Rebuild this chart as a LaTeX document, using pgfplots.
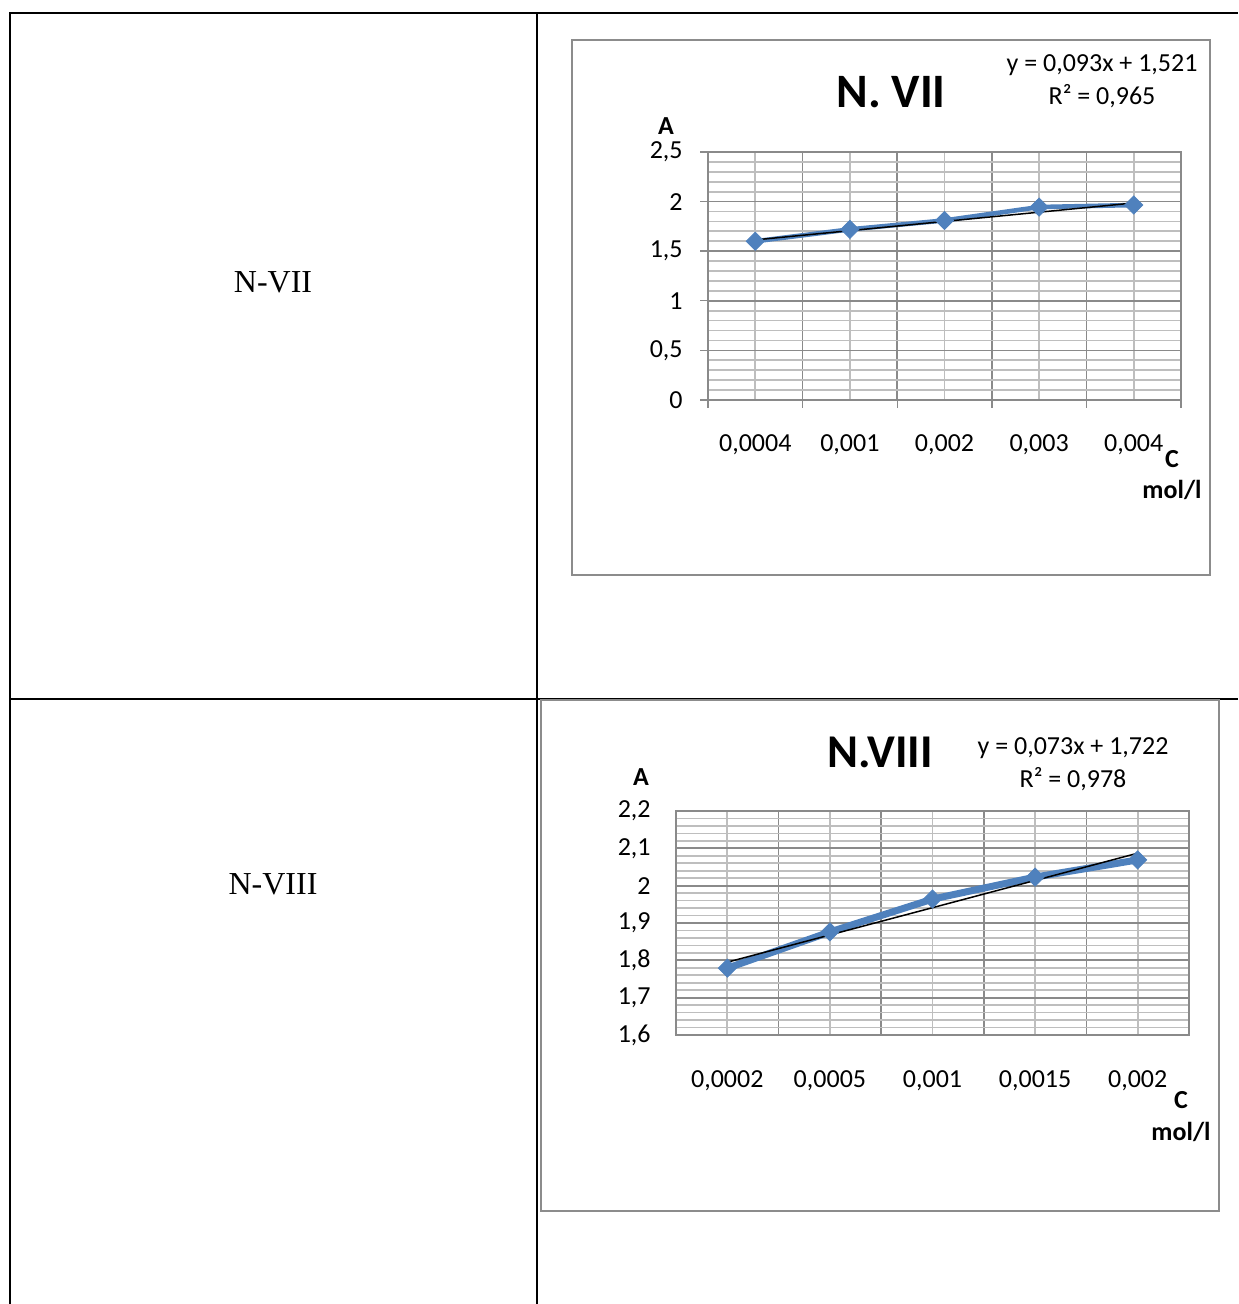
\documentclass[border=0pt]{standalone}
\usepackage{fontspec}
\setmainfont{Liberation Serif}
\newfontfamily\calibri{Carlito}
\usepackage{pgfplots}
\pgfplotsset{compat=1.18}
\definecolor{xblue}{HTML}{4F81BD}
\definecolor{framegray}{HTML}{8C8C8C}
\definecolor{majgray}{HTML}{8A8A8A}
\definecolor{mingray}{HTML}{BEBEBE}

\pgfplotsset{
  excelchart/.style={
    scale only axis,
    anchor=south west,
    xmin=-0.5, xmax=4.5,
    xtick={-0.5,0.5,1.5,2.5,3.5,4.5},
    xticklabels={},
    minor xtick={0,1,2,3,4},
    extra x ticks={0,1,2,3,4},
    grid=both,
    major grid style={majgray, line width=0.85pt},
    minor grid style={mingray, line width=0.85pt},
    tick pos=left,
    tick align=outside,
    minor tick length=0pt,
    tick style={majgray, line width=0.7pt},
    axis line style={majgray, line width=0.8pt},
    /pgf/number format/use comma,
    /pgf/number format/assume math mode=true,
    tick label style={font=\calibri\fontsize{13}{15}\selectfont, text=black},
  },
  series/.style={xblue, line width=#1, mark=square*, mark size=3.2pt,
    mark options={solid, rotate=45, line width=0.4pt, fill=xblue, draw=xblue}},
  trend/.style={black, line width=0.75pt, no marks},
}

\begin{document}
\begin{tikzpicture}
\useasboundingbox (0,0) rectangle (619pt,652pt);
% table
\draw[line width=0.8pt] (5pt,645.5pt) -- (619pt,645.5pt);
\draw[line width=0.8pt] (5pt,645.9pt) -- (5pt,0pt);
\draw[line width=0.8pt] (268.5pt,645.9pt) -- (268.5pt,0pt);
\draw[line width=0.8pt] (5pt,302.5pt) -- (619pt,302.5pt);
\node[font=\fontsize{16}{19}\selectfont] at (136.5pt,511pt) {N-VII};
\node[font=\fontsize{16}{19}\selectfont] at (136.5pt,210pt) {N-VIII};
% chart frames
\draw[framegray, line width=1.2pt] (286pt,632pt) rectangle (605pt,364.5pt);
\draw[framegray, line width=1.2pt] (270.5pt,302pt) rectangle (609.5pt,46.5pt);

% ---------- chart N. VII ----------
\begin{axis}[excelchart,
  at={(354pt,452pt)}, width=236.5pt, height=124pt,
  ymin=0, ymax=2.5,
  ytick={0,0.5,1,1.5,2,2.5},
  minor y tick num=4,
  major tick length=4pt,
  extra x tick labels={{0,0004},{0,001},{0,002},{0,003},{0,004}},
  extra x tick style={grid=none, major tick length=0pt,
    xticklabel style={anchor=center, yshift=-22.5pt}},
  yticklabel style={anchor=east, inner sep=0pt, xshift=-8.5pt},
]
\addplot[series=2.3pt] coordinates {(0,1.60) (1,1.72) (2,1.81) (3,1.945) (4,1.965)};
\addplot[trend] coordinates {(0,1.614) (4,1.986)};
\end{axis}

% ---------- chart N.VIII ----------
\begin{axis}[excelchart,
  at={(338pt,134.5pt)}, width=256.5pt, height=112pt,
  ymin=1.6, ymax=2.2,
  ytick={1.6,1.7,1.8,1.9,2,2.1,2.2},
  minor y tick num=4,
  major tick length=0pt,
  extra x tick labels={{0,0002},{0,0005},{0,001},{0,0015},{0,002}},
  extra x tick style={grid=none, major tick length=0pt,
    xticklabel style={anchor=center, yshift=-23pt}},
  yticklabel style={anchor=east, inner sep=0pt, xshift=-12.5pt},
]
\addplot[series=3.5pt] coordinates {(0,1.779) (1,1.876) (2,1.964) (3,2.023) (4,2.069)};
\addplot[trend] coordinates {(0,1.795) (4,2.087)};
\end{axis}

% ---------- texts chart 1 ----------
\node[font=\calibri\bfseries\fontsize{24}{28}\selectfont] at (445.5pt,606pt) {N. VII};
\node[font=\calibri\fontsize{13}{15}\selectfont] at (551pt,619.5pt) {y = 0,093x + 1,521};
\node[font=\calibri\fontsize{13}{15}\selectfont] at (551pt,604pt) {R² = 0,965};
\node[font=\calibri\bfseries\fontsize{13}{15}\selectfont] at (333pt,589pt) {A};
\node[font=\calibri\bfseries\fontsize{13}{15}\selectfont] at (586pt,422.5pt) {C};
\node[font=\calibri\bfseries\fontsize{13}{15}\selectfont] at (586pt,407pt) {mol/l};

% ---------- texts chart 2 ----------
\node[font=\calibri\bfseries\fontsize{23.5}{28}\selectfont] at (440pt,276pt) {N.VIII};
\node[font=\calibri\fontsize{13}{15}\selectfont] at (536.5pt,278pt) {y = 0,073x + 1,722};
\node[font=\calibri\fontsize{13}{15}\selectfont] at (536.5pt,262.5pt) {R² = 0,978};
\node[font=\calibri\bfseries\fontsize{13}{15}\selectfont] at (320.5pt,263.5pt) {A};
\node[font=\calibri\bfseries\fontsize{13}{15}\selectfont] at (590.5pt,102pt) {C};
\node[font=\calibri\bfseries\fontsize{13}{15}\selectfont] at (590.5pt,86pt) {mol/l};
\end{tikzpicture}
\end{document}
